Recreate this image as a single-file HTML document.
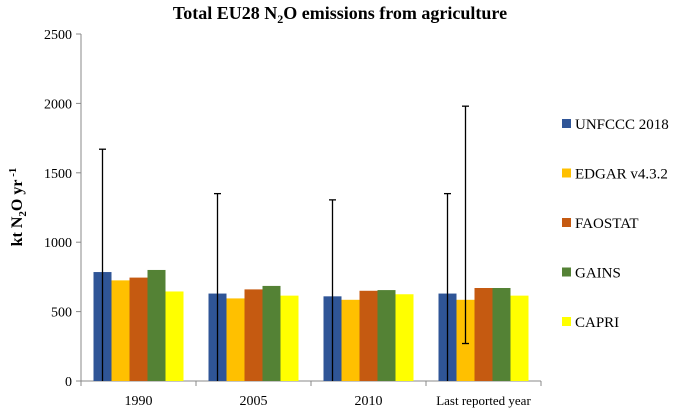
<!DOCTYPE html>
<html><head><meta charset="utf-8"><style>
body{margin:0;background:#fff;}
svg text{font-family:"Liberation Serif",serif;}
</style></head><body>
<svg width="679" height="414" id="chart">
<text x="340" y="19" text-anchor="middle" font-size="18" font-weight="bold">Total EU28 N<tspan dy="4" font-size="12">2</tspan><tspan dy="-4">O emissions  from agriculture</tspan></text>
<text transform="translate(22,207) rotate(-90)" text-anchor="middle" font-size="16" font-weight="bold">kt  N<tspan dy="4" font-size="11">2</tspan><tspan dy="-4">O yr</tspan><tspan dy="-6" font-size="11"> -1</tspan></text>
<g id="axes"></g><g id="bars"></g><g id="errs"></g><g id="legend"></g>
</svg>
<script>
const categories=["1990","2005","2010","Last reported year"];
const seriesNames=["UNFCCC 2018","EDGAR v4.3.2","FAOSTAT","GAINS","CAPRI"];
const colors=["#2F5597","#FFC000","#C55A11","#548235","#FFFF00"];
const unfccc=[785,630,610,630];
const edgar=[725,595,585,585];
const faostat=[745,660,650,670];
const gains=[800,685,655,670];
const capri=[645,615,625,615];
const series=[unfccc,edgar,faostat,gains,capri];
const errLow=[0,0,0,0,270];
const errHigh=[1670,1350,1305,1350,1980];
const errCat=[0,1,2,3,3];
const errSeries=[0,0,0,0,1];
const yTicks=[0,500,1000,1500,2000,2500];
const NS="http://www.w3.org/2000/svg";
const x0=81,x1=541,y0=381,yTop=34,yMax=2500;
const catW=(x1-x0)/categories.length,barW=18,pad=(catW-barW*5)/2;
const y=v=>y0-(v/yMax)*(y0-yTop);
const bx=(c,s)=>x0+c*catW+pad+s*barW;
function mk(tag,attrs,parent){const e=document.createElementNS(NS,tag);for(const k in attrs)e.setAttribute(k,attrs[k]);document.getElementById(parent).appendChild(e);return e;}
let e=mk("line",{x1:x0,y1:yTop,x2:x0,y2:y0,stroke:"#888"},"axes");


e=mk("line",{x1:x0,y1:y0,x2:x1,y2:y0,stroke:"#888"},"axes");


yTicks.forEach(t=>{
 mk("line",{x1:x0-5,y1:y(t),x2:x0,y2:y(t),stroke:"#888"},"axes");
 const tx=mk("text",{x:x0-9,y:y(t)+5,"text-anchor":"end","font-size":"14"},"axes");
 tx.textContent=t;
 
 
});
for(let i=0;i<=categories.length;i++)mk("line",{x1:x0+i*catW,y1:y0,x2:x0+i*catW,y2:y0+5,stroke:"#888"},"axes");
categories.forEach((c,i)=>{
 const tx=mk("text",{x:x0+(i+0.5)*catW,y:y0+24,"text-anchor":"middle","font-size":i==3?"13":"14"},"axes");
 tx.textContent=c;
 
 
});
series.forEach((arr,s)=>arr.forEach((v,c)=>{
 const r=mk("rect",{x:bx(c,s),y:y(v),width:barW,height:y0-y(v),fill:colors[s]},"bars");
 
 
}));
errCat.forEach((c,i)=>{
 const cx=bx(c,errSeries[i])+barW/2;
 const l=mk("line",{x1:cx,y1:y(errHigh[i]),x2:cx,y2:y(errLow[i]),stroke:"#000","stroke-width":1.3},"errs");
 
 
 mk("line",{x1:cx-3.5,y1:y(errHigh[i]),x2:cx+3.5,y2:y(errHigh[i]),stroke:"#000","stroke-width":1.3},"errs");
 if(errLow[i]>0)mk("line",{x1:cx-3.5,y1:y(errLow[i]),x2:cx+3.5,y2:y(errLow[i]),stroke:"#000","stroke-width":1.3},"errs");
});
seriesNames.forEach((n,i)=>{
 const yy=124+i*49.5;
 const r=mk("rect",{x:562,y:yy-5,width:9,height:9,fill:colors[i]},"legend");
 
 
 const t=mk("text",{x:575,y:yy+5,"font-size":"15"},"legend");
 t.textContent=n;
 
 
});
</script>
</body></html>
